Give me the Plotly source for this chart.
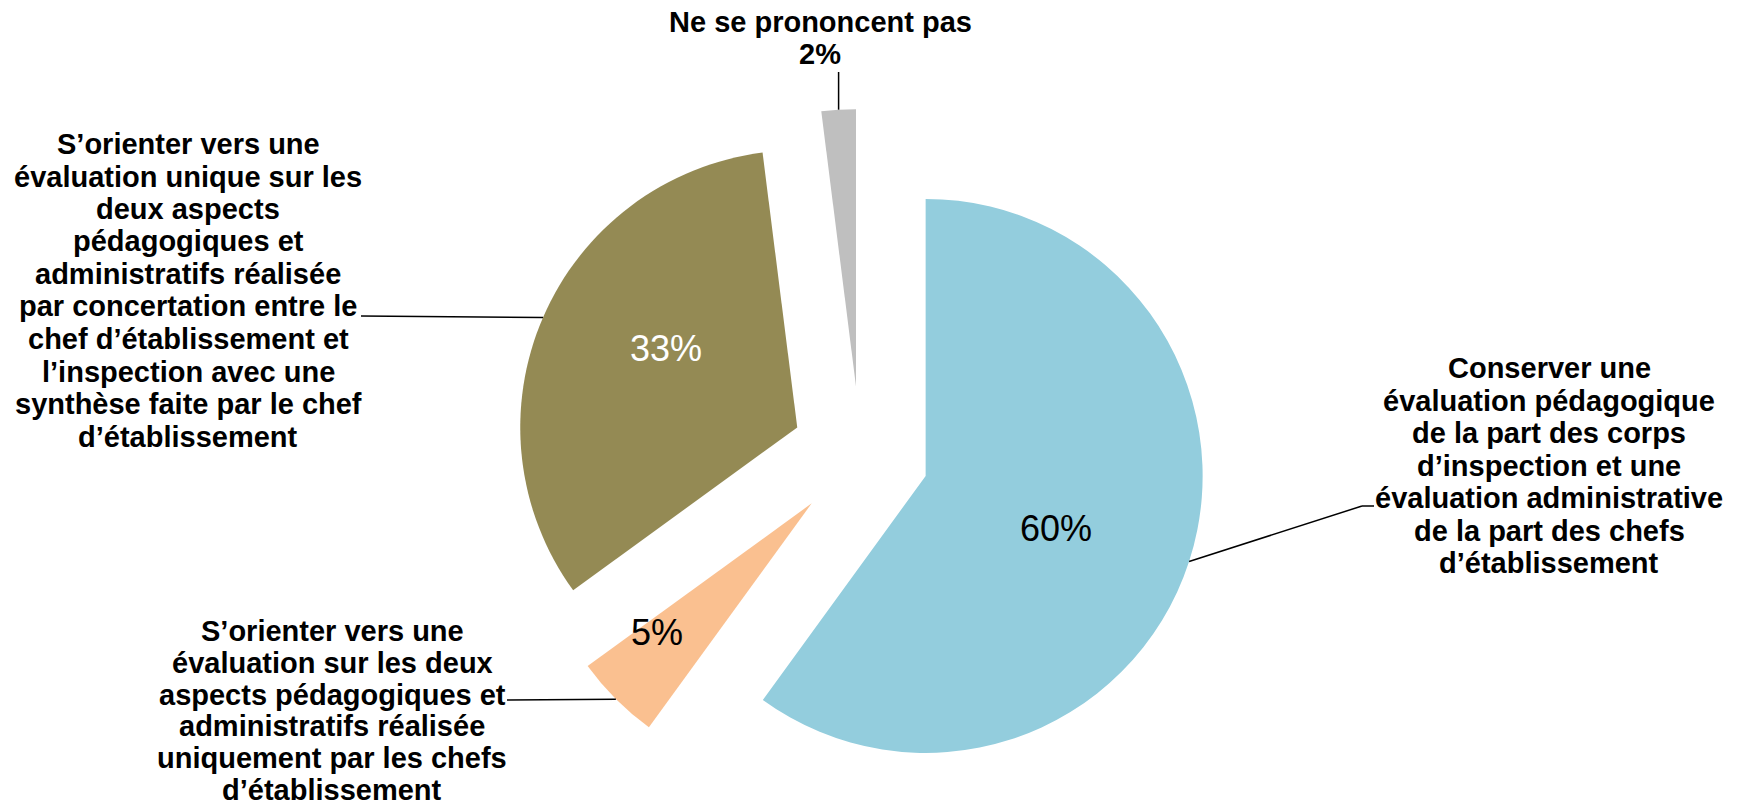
import math
import plotly.graph_objects as go

# ---------------- data ----------------
categories = [
    "Conserver une\névaluation pédagogique\nde la part des corps\nd’inspection et une\névaluation administrative\nde la part des chefs\nd’établissement",
    "S’orienter vers une\névaluation sur les deux\naspects pédagogiques et\nadministratifs réalisée\nuniquement par les chefs\nd’établissement",
    "S’orienter vers une\névaluation unique sur les\ndeux aspects\npédagogiques et\nadministratifs réalisée\npar concertation entre le\nchef d’établissement et\nl’inspection avec une\nsynthèse faite par le chef\nd’établissement",
    "Ne se prononcent pas",
]
values = [60, 5, 33, 2]
colors = ["#93CDDD", "#FAC090", "#948A54", "#BFBFBF"]

# ---------------- layout geometry (pixels) ----------------
W, H = 1742, 809
PULL = 0.248
CX, CY, R = 860.3, 454.7, 277.0
half = R * (1 + PULL)
dom_y = [1 - (CY + half) / H, 1 - (CY - half) / H]
dom_x = [(CX - 1.3 * half) / W, (CX + 1.3 * half) / W]

FONT = "Liberation Sans, Arial, sans-serif"
LBL_SIZE = 29

def px(x, y):
    return x / W, 1 - y / H

total = sum(values)
mids = []
acc = 0
for v in values:
    a0 = 360 * acc / total
    acc += v
    a1 = 360 * acc / total
    mids.append((a0 + a1) / 2)

def dirv(ang):
    t = math.radians(ang)
    return math.sin(t), -math.cos(t)

def apex(i):
    dx, dy = dirv(mids[i])
    return CX + PULL * R * dx, CY + PULL * R * dy

# label styling / placement (pixels)
label_style = {
    0: dict(x=1549, y0=368, lh=32.5, show_pct=False, leader=[(1362, 506), (1374, 506)], ptxt_color="black", pfrac=0.508, poff=4.1),
    1: dict(x=332, y0=631, lh=31.8, show_pct=False, leader=[(507, 700)], ptxt_color="black", pfrac=0.728, poff=5.2),
    2: dict(x=188, y0=144, lh=32.5, show_pct=False, leader=[(361, 316)], ptxt_color="white", pfrac=0.552, poff=7.7),
    3: dict(x=820, y0=22, lh=32.5, show_pct=True, leader=[(None, 72)], ptxt_color=None, pfrac=None, poff=None),
}

fig = go.Figure(go.Pie(
    labels=[c.replace("\n", " ") for c in categories],
    values=values,
    sort=False,
    direction="clockwise",
    rotation=0,
    pull=[PULL] * len(values),
    marker=dict(colors=colors, line=dict(width=0)),
    textinfo="none",
    hoverinfo="label+percent",
    domain=dict(x=dom_x, y=dom_y),
    showlegend=False,
))

annotations = []
shapes = []
for i, (cat, v) in enumerate(zip(categories, values)):
    st = label_style[i]
    lines = cat.split("\n")
    if st["show_pct"]:
        lines = lines + [f"{v}%"]
    for k, ln in enumerate(lines):
        x, y = px(st["x"], st["y0"] + k * st["lh"])
        annotations.append(dict(
            x=x, y=y, xref="paper", yref="paper", text=ln, showarrow=False,
            xanchor="center", yanchor="middle",
            font=dict(family=FONT, size=LBL_SIZE, color="black", weight="bold"),
        ))
    # leader line from slice arc mid point
    ax, ay = apex(i)
    dx, dy = dirv(mids[i])
    sx, sy = ax + R * dx, ay + R * dy
    pts = [(sx, sy)] + [((sx if p[0] is None else p[0]), p[1]) for p in st["leader"]]
    for (x0, y0), (x1, y1) in zip(pts[:-1], pts[1:]):
        X0, Y0 = px(x0, y0)
        X1, Y1 = px(x1, y1)
        shapes.append(dict(type="line", xref="paper", yref="paper",
                           x0=X0, y0=Y0, x1=X1, y1=Y1,
                           line=dict(color="black", width=1.5)))
    # percentage inside slice
    if st["pfrac"] is not None:
        pdx, pdy = dirv(mids[i] + st["poff"])
        tx, ty = ax + st["pfrac"] * R * pdx, ay + st["pfrac"] * R * pdy
        X, Y = px(tx, ty)
        annotations.append(dict(
            x=X, y=Y, xref="paper", yref="paper", text=f"{v}%", showarrow=False,
            xanchor="center", yanchor="middle",
            font=dict(family=FONT, size=36, color=st["ptxt_color"]),
        ))

fig.update_layout(
    width=W, height=H,
    margin=dict(l=0, r=0, t=0, b=0),
    paper_bgcolor="white",
    plot_bgcolor="white",
    annotations=annotations,
    shapes=shapes,
    showlegend=False,
)

fig.write_html("out.html",
               config={"displayModeBar": False},
               post_script="document.body.style.margin='0px';document.body.style.overflow='hidden';")
